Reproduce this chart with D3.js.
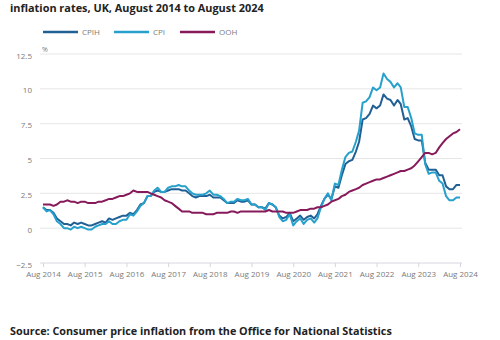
<!DOCTYPE html>
<html>
<head>
<meta charset="utf-8">
<script src="https://cdn.jsdelivr.net/npm/d3@7"></script>
<style>
  html, body { margin: 0; padding: 0; background: #fff; }
  svg { display: block; font-family: "Open Sans", "Noto Sans", sans-serif; }
</style>
</head>
<body>
<svg id="chart" width="500" height="340"></svg>
<script>
const startMonth = "2014-08";
const xTickLabels = ["Aug 2014","Aug 2015","Aug 2016","Aug 2017","Aug 2018","Aug 2019","Aug 2020","Aug 2021","Aug 2022","Aug 2023","Aug 2024"];
const yTicks = [-2.5, 0, 2.5, 5, 7.5, 10, 12.5];
const seriesNames = ["CPIH", "CPI", "OOH"];

// Monthly 12-month rates, Aug 2014 .. Aug 2024
const cpih = [
  1.5,1.3,1.3,1.1,0.7,
  0.5,0.3,0.3,0.2,0.4,0.3,0.4,0.3,0.2,0.2,0.3,0.4,
  0.5,0.4,0.7,0.6,0.7,0.8,0.9,0.9,1.1,1.0,1.3,1.7,
  1.8,2.3,2.3,2.6,2.7,2.6,2.6,2.7,2.8,2.8,2.8,2.7,
  2.7,2.5,2.3,2.2,2.3,2.3,2.3,2.4,2.2,2.2,2.2,2.0,
  1.8,1.8,1.8,2.0,1.9,1.9,2.0,1.7,1.7,1.5,1.5,1.4,
  1.8,1.7,1.5,0.9,0.7,0.8,1.1,0.5,0.7,0.9,0.6,0.8,
  0.9,0.7,1.0,1.6,2.1,2.4,2.1,3.0,2.9,3.8,4.6,4.8,
  4.9,5.5,6.2,7.8,7.9,8.2,8.8,8.6,8.8,9.6,9.3,9.2,
  8.8,9.2,8.9,7.8,7.9,7.3,6.4,6.3,6.3,4.7,4.2,4.2,
  4.2,3.8,3.8,3.0,2.8,2.8,3.1,3.1
];
const cpi = [
  1.5,1.2,1.3,1.0,0.5,
  0.3,0.0,0.0,-0.1,0.1,0.0,0.1,0.0,-0.1,-0.1,0.1,0.2,
  0.3,0.3,0.5,0.3,0.3,0.5,0.6,0.6,1.0,0.9,1.2,1.6,
  1.8,2.3,2.3,2.7,2.9,2.6,2.6,2.9,3.0,3.0,3.1,3.0,
  3.0,2.7,2.5,2.4,2.4,2.4,2.5,2.7,2.4,2.4,2.3,2.1,
  1.8,1.9,1.9,2.1,2.0,2.0,2.1,1.7,1.7,1.5,1.5,1.3,
  1.8,1.7,1.5,0.8,0.5,0.6,1.0,0.2,0.5,0.7,0.3,0.6,
  0.7,0.4,0.7,1.5,2.1,2.5,2.0,3.2,3.1,4.2,5.1,5.4,
  5.5,6.2,7.0,9.0,9.1,9.4,10.1,9.9,10.1,11.1,10.7,10.5,
  10.1,10.4,10.1,8.7,8.7,7.9,6.8,6.7,6.7,4.6,3.9,4.0,
  4.0,3.4,3.2,2.3,2.0,2.0,2.2,2.2
];
const ooh = [
  1.7,1.7,1.7,1.6,1.7,
  1.9,1.9,2.0,1.9,1.9,1.8,1.9,1.9,1.8,1.8,1.8,1.9,
  1.9,2.0,2.1,2.1,2.2,2.3,2.3,2.4,2.5,2.7,2.6,2.6,
  2.6,2.6,2.5,2.4,2.3,2.2,2.0,1.9,1.8,1.6,1.4,1.2,
  1.2,1.2,1.1,1.1,1.1,1.1,1.0,1.0,1.0,1.1,1.1,1.1,
  1.1,1.2,1.2,1.1,1.2,1.2,1.2,1.2,1.2,1.2,1.2,1.2,
  1.3,1.2,1.2,1.2,1.2,1.1,1.1,1.1,1.2,1.3,1.3,1.3,
  1.4,1.4,1.5,1.5,1.6,1.7,1.9,2.0,2.1,2.3,2.4,2.6,
  2.7,2.8,2.9,3.1,3.2,3.3,3.4,3.5,3.5,3.6,3.7,3.8,
  3.9,4.0,4.1,4.1,4.2,4.3,4.5,4.8,5.1,5.4,5.4,5.3,
  5.4,5.8,6.1,6.4,6.6,6.8,6.9,7.1
];

const colors = { CPIH: "#206095", CPI: "#27a0cc", OOH: "#871a5b" };

const svg = d3.select("#chart");
const parse = d3.timeParse("%Y-%m");
const t0 = parse(startMonth);
const dates = cpi.map((_, i) => d3.timeMonth.offset(t0, i));

const x = d3.scaleTime().domain([dates[0], dates[dates.length - 1]]).range([43, 460]);
const y = d3.scaleLinear().domain([-2.5, 12.5]).range([263, 54]);

// Title
svg.append("text").attr("x", 10).attr("y", 12)
  .attr("font-size", 10.9).attr("font-weight", 700).attr("fill", "#222")
  .text("inflation rates, UK, August 2014 to August 2024");

// Legend
const legendPos = [{x: 43}, {x: 114}, {x: 180}];
seriesNames.forEach((n, i) => {
  const g = svg.append("g");
  g.append("line").attr("x1", legendPos[i].x).attr("x2", legendPos[i].x + 35)
    .attr("y1", 32).attr("y2", 32).attr("stroke", colors[n]).attr("stroke-width", 2.5);
  g.append("text").attr("x", legendPos[i].x + 39).attr("y", 35)
    .attr("font-size", 8).attr("fill", "#7a7a7a").text(n);
});

// Grid lines
svg.append("g").selectAll("line").data(yTicks.filter(v => v !== -2.5)).join("line")
  .attr("x1", 40).attr("x2", 462)
  .attr("y1", d => y(d)).attr("y2", d => y(d))
  .attr("stroke", "#e6e6e6").attr("stroke-width", 1);

// Y axis labels
const yAxis = d3.axisLeft(y).tickValues(yTicks).tickSize(0).tickPadding(0)
  .tickFormat(d => d3.format("")(d));
const yg = svg.append("g").attr("transform", "translate(32,1.5)").call(yAxis);
yg.select(".domain").remove();
yg.selectAll("text").attr("font-size", 8).attr("fill", "#7a7a7a").attr("font-family", "Open Sans");

svg.append("text").attr("x", 42).attr("y", 52).attr("font-size", 7)
  .attr("fill", "#7a7a7a").text("%");

// X axis
const tickDates = xTickLabels.map((_, i) => d3.timeYear.offset(t0, i));
const xAxis = d3.axisBottom(x).tickValues(tickDates).tickSize(-4).tickPadding(4)
  .tickFormat((d, i) => xTickLabels[i]);
const xg = svg.append("g").attr("transform", "translate(0,267)").call(xAxis);
xg.select(".domain").remove();
xg.selectAll(".tick line").attr("stroke", "#d6d6e0");
xg.selectAll("text").attr("font-size", 8).attr("fill", "#7a7a7a").attr("font-family", "Open Sans");
svg.append("line").attr("x1", 40).attr("x2", 462).attr("y1", y(-2.5)).attr("y2", y(-2.5))
  .attr("stroke", "#d6d6e0").attr("stroke-width", 1);

// Lines
const line = d3.line().x((d, i) => x(dates[i])).y(d => y(d));
const seriesData = { CPIH: cpih, CPI: cpi, OOH: ooh };
seriesNames.forEach(n => {
  svg.append("path").datum(seriesData[n])
    .attr("fill", "none").attr("stroke", colors[n]).attr("stroke-width", 2)
    .attr("stroke-linejoin", "round").attr("d", line);
});

// Source
svg.append("text").attr("x", 10).attr("y", 335)
  .attr("font-size", 10.8).attr("font-weight", 700).attr("fill", "#222")
  .text("Source: Consumer price inflation from the Office for National Statistics");
</script>
</body>
</html>
